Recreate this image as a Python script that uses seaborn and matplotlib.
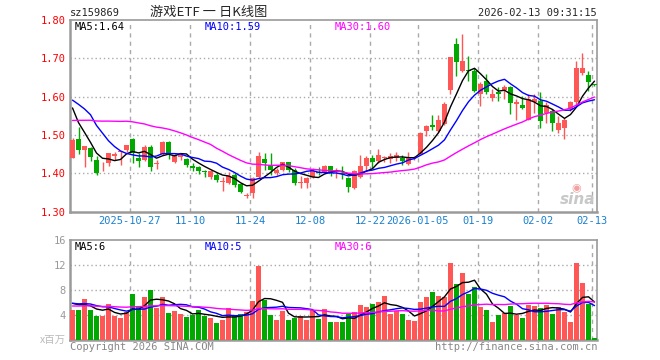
import numpy as np
import pandas as pd
import matplotlib
matplotlib.use("Agg")
import matplotlib.pyplot as plt
import seaborn as sns

sns.set_style("white")
plt.rcParams['font.family'] = ['DejaVu Sans Mono', 'Noto Sans CJK SC']

# 游戏ETF 日K (2025-10-13 ~ 2026-02-13), 价格: 元, 成交量: 百万
opens = [1.441, 1.490, 1.462, 1.465, 1.436, 1.418, 1.427, 1.445, 1.455, 1.461,
         1.490, 1.439, 1.435, 1.468, 1.424, 1.450, 1.483, 1.430, 1.443, 1.437,
         1.419, 1.417, 1.405, 1.391, 1.397, 1.378, 1.374, 1.396, 1.372, 1.340,
         1.350, 1.391, 1.437, 1.423, 1.400, 1.409, 1.429, 1.409, 1.375, 1.374,
         1.391, 1.404, 1.404, 1.418, 1.403, 1.402, 1.387, 1.362, 1.391, 1.419,
         1.440, 1.432, 1.441, 1.438, 1.441, 1.441, 1.425, 1.440, 1.451, 1.510,
         1.527, 1.510, 1.530, 1.618, 1.738, 1.668, 1.669, 1.668, 1.606, 1.641,
         1.596, 1.612, 1.617, 1.625, 1.582, 1.577, 1.540, 1.586, 1.589, 1.558,
         1.562, 1.514, 1.518, 1.567, 1.586, 1.663, 1.656, 1.632]
highs = [1.492, 1.521, 1.472, 1.470, 1.445, 1.430, 1.453, 1.457, 1.459, 1.475,
         1.492, 1.452, 1.474, 1.474, 1.434, 1.485, 1.484, 1.450, 1.450, 1.439,
         1.427, 1.420, 1.410, 1.409, 1.402, 1.391, 1.404, 1.400, 1.376, 1.348,
         1.391, 1.457, 1.452, 1.452, 1.413, 1.430, 1.430, 1.413, 1.392, 1.390,
         1.413, 1.417, 1.422, 1.419, 1.413, 1.419, 1.391, 1.409, 1.448, 1.444,
         1.448, 1.464, 1.444, 1.453, 1.457, 1.448, 1.455, 1.446, 1.507, 1.525,
         1.551, 1.551, 1.586, 1.704, 1.753, 1.764, 1.707, 1.676, 1.637, 1.659,
         1.619, 1.624, 1.630, 1.628, 1.593, 1.602, 1.606, 1.606, 1.611, 1.586,
         1.567, 1.549, 1.545, 1.589, 1.694, 1.714, 1.667, 1.634]
lows = [1.439, 1.450, 1.417, 1.432, 1.397, 1.405, 1.419, 1.435, 1.421, 1.457,
        1.426, 1.417, 1.433, 1.405, 1.411, 1.448, 1.437, 1.428, 1.435, 1.417,
        1.405, 1.399, 1.391, 1.385, 1.378, 1.355, 1.371, 1.365, 1.349, 1.336,
        1.336, 1.389, 1.409, 1.397, 1.396, 1.407, 1.404, 1.370, 1.362, 1.362,
        1.388, 1.395, 1.400, 1.392, 1.387, 1.386, 1.352, 1.360, 1.389, 1.409,
        1.415, 1.426, 1.429, 1.426, 1.433, 1.422, 1.422, 1.436, 1.450, 1.497,
        1.512, 1.508, 1.527, 1.606, 1.654, 1.664, 1.641, 1.611, 1.575, 1.606,
        1.589, 1.589, 1.593, 1.554, 1.540, 1.567, 1.540, 1.558, 1.518, 1.532,
        1.510, 1.505, 1.489, 1.562, 1.577, 1.656, 1.615, 1.628]
closes = [1.488, 1.461, 1.472, 1.443, 1.401, 1.420, 1.452, 1.450, 1.458, 1.474,
          1.452, 1.433, 1.470, 1.417, 1.426, 1.483, 1.454, 1.448, 1.447, 1.421,
          1.415, 1.405, 1.403, 1.407, 1.383, 1.380, 1.393, 1.370, 1.352, 1.343,
          1.387, 1.446, 1.426, 1.409, 1.409, 1.429, 1.409, 1.374, 1.377, 1.387,
          1.406, 1.402, 1.420, 1.400, 1.405, 1.398, 1.365, 1.406, 1.419, 1.441,
          1.430, 1.448, 1.443, 1.444, 1.448, 1.431, 1.439, 1.442, 1.505, 1.523,
          1.520, 1.540, 1.582, 1.703, 1.691, 1.694, 1.667, 1.615, 1.632, 1.612,
          1.606, 1.608, 1.626, 1.584, 1.586, 1.571, 1.593, 1.595, 1.536, 1.577,
          1.532, 1.532, 1.540, 1.586, 1.674, 1.674, 1.639, 1.630]
volumes = [4.80, 4.80, 6.56, 4.80, 3.84, 3.84, 5.76, 3.84, 3.52, 4.43,
           7.36, 5.28, 6.88, 8.00, 5.12, 6.88, 4.32, 4.64, 4.16, 3.68,
           4.05, 4.80, 3.90, 3.52, 2.72, 3.20, 5.12, 3.84, 4.16, 4.48,
           6.24, 11.90, 6.40, 4.00, 3.20, 4.64, 3.20, 3.52, 3.84, 3.20,
           4.80, 3.36, 4.96, 2.88, 2.88, 2.88, 4.16, 4.48, 5.60, 5.28,
           5.76, 6.08, 7.04, 4.16, 4.64, 4.16, 3.20, 3.04, 6.08, 6.88,
           7.68, 7.04, 6.88, 12.32, 8.96, 10.72, 7.36, 8.48, 5.28, 4.80,
           2.88, 4.00, 4.32, 5.44, 4.00, 3.52, 5.60, 5.44, 5.12, 5.60,
           4.16, 5.28, 4.48, 2.88, 12.32, 9.12, 5.76, 0.32]

# 图表左端之前的29个交易日, 只用来算均线
prev_closes = [1.45, 1.47, 1.44, 1.46, 1.43, 1.45, 1.46, 1.47, 1.46,
               1.50, 1.52, 1.55, 1.56, 1.53, 1.55, 1.55, 1.58, 1.60, 1.59,
               1.61, 1.571, 1.592, 1.593, 1.681, 1.62, 1.652, 1.60, 1.573, 1.54]
prev_volumes = [5.0, 5.5, 4.8, 5.6, 5.2, 4.9, 5.8, 5.3, 5.0, 5.4,
                4.7, 5.6, 5.1, 5.3, 5.5, 4.9, 5.2, 5.4, 5.0, 5.3,
                5.6, 6.2, 5.5, 6.4, 5.65, 5.9, 6.5, 5.8, 6.35]

tick_idx = [10, 20, 30, 40, 50, 58, 68, 78, 87]
tick_labels = ["2025-10-27", "11-10", "11-24", "12-08", "12-22",
               "2026-01-05", "01-19", "02-02", "02-13"]

RED = "#ff5656"
GREEN = "#00a800"
GRID = "#aaaaaa"
FRAME = "#9a9a9a"
MA_COLORS = {5: "black", 10: "#0000ff", 30: "#ff00ff"}

n = len(closes)
idx = np.arange(n)
df = pd.DataFrame({"i": idx, "open": opens, "high": highs, "low": lows,
                   "close": closes, "vol": volumes})
df["dir"] = np.where(df["close"] >= df["open"], "up", "down")

k = len(prev_closes)
all_close = pd.Series(prev_closes + closes)
all_vol = pd.Series(prev_volumes + volumes)
for w in (5, 10, 30):
    df[f"ma{w}"] = all_close.rolling(w).mean().iloc[k:].to_numpy()
    df[f"vma{w}"] = all_vol.rolling(w).mean().iloc[k:].to_numpy()

W, H = 660, 360
fig = plt.figure(figsize=(6.6, 3.6), dpi=100)
ax = fig.add_axes([70 / W, 1 - 211.7 / H, 527 / W, 191.7 / H])
axv = fig.add_axes([70 / W, 1 - 340 / H, 527 / W, 100 / H])

half = 0.417
grid_x = [t - half for t in tick_idx]

# ---- K线 ----
colors = np.where(df["dir"] == "up", RED, GREEN)
body_lo = np.minimum(df["open"], df["close"])
body_h = np.maximum((df["close"] - df["open"]).abs(), 0.0025)
ax.vlines(idx, df["low"], df["high"], colors=colors, lw=1, zorder=2)
ax.bar(idx, body_h, bottom=body_lo, width=0.83, color=colors, linewidth=0, zorder=3)
for w in (5, 10, 30):
    sns.lineplot(data=df, x="i", y=f"ma{w}", color=MA_COLORS[w], lw=1, ax=ax, zorder=4)

for y in (1.4, 1.5, 1.6, 1.7):
    ax.axhline(y, color=GRID, ls=(0, (1, 2)), lw=1, zorder=0)
for gx in grid_x:
    ax.axvline(gx, color=GRID, ls=(0, (3, 3)), lw=1, zorder=0)

ax.set_xlim(-half, n - 1 + half)
ax.set_ylim(1.30, 1.80)
ax.set_yticks([1.3, 1.4, 1.5, 1.6, 1.7, 1.8])
ax.set_yticklabels([f"{v:.2f}" for v in [1.3, 1.4, 1.5, 1.6, 1.7, 1.8]], color="#ff0000", fontsize=7.5)
ax.set_xticks(grid_x)
ax.set_xticklabels(tick_labels, color="#1a80d0", fontsize=7.5)
ax.tick_params(length=0, pad=3)
ax.set_xlabel("")
ax.set_ylabel("")

# ---- 成交量 ----
sns.barplot(data=df, x="i", y="vol", hue="dir", palette={"up": RED, "down": GREEN},
            native_scale=True, width=0.83, dodge=False, errorbar=None, legend=False,
            saturation=1, linewidth=0, ax=axv, zorder=3)
for w in (5, 10, 30):
    sns.lineplot(data=df, x="i", y=f"vma{w}", color=MA_COLORS[w], lw=1, ax=axv, zorder=4)

for y in (4, 8, 12):
    axv.axhline(y, color=GRID, ls=(0, (1, 2)), lw=1, zorder=0)
for gx in grid_x:
    axv.axvline(gx, color=GRID, ls=(0, (3, 3)), lw=1, zorder=0)

axv.set_xlim(-half, n - 1 + half)
axv.set_ylim(0, 16)
axv.set_yticks([4, 8, 12, 16])
axv.set_yticklabels(["4", "8", "12", "16"], color="#999999", fontsize=7.5)
axv.set_xticks([])
axv.tick_params(length=0, pad=3)
axv.set_xlabel("")
axv.set_ylabel("")

for a in (ax, axv):
    for s in a.spines.values():
        s.set_color(FRAME)
        s.set_linewidth(1.2)
    a.spines["left"].set_linewidth(1.8)
    a.spines["bottom"].set_linewidth(1.8)

# ---- 文字 ----
def px(x, y):
    return x / W, 1 - y / H

fig.text(*px(70, 13), "sz159869", fontsize=7.5, va="center", ha="left")
fig.text(*px(209, 12), "游戏ETF 一 日K线图", fontsize=9.5, va="center", ha="center",
         family=["Noto Sans CJK SC", "DejaVu Sans"])
fig.text(*px(597, 13), "2026-02-13 09:31:15", fontsize=7.5, va="center", ha="right")

ma_x = {5: 75, 10: 205, 30: 335}
for w in (5, 10, 30):
    fig.text(*px(ma_x[w], 27), f"MA{w}:{df[f'ma{w}'].iloc[-1]:.2f}",
             color=MA_COLORS[w], fontsize=7.5, va="center")
    fig.text(*px(ma_x[w], 247), f"MA{w}:{int(df[f'vma{w}'].iloc[-1])}",
             color=MA_COLORS[w], fontsize=7.5, va="center")

fig.text(*px(66, 340), "x百万", fontsize=7.5, color="#bbbbbb", va="center", ha="right",
         family=["Noto Sans CJK SC", "DejaVu Sans"])
fig.text(*px(70, 347), "Copyright 2026 SINA.COM", fontsize=7.5, color="#888888", va="center")
fig.text(*px(597, 347), "http://finance.sina.com.cn", fontsize=7.5, color="#888888",
         va="center", ha="right")

# 新浪水印
fig.text(*px(576, 188), "◉", fontsize=8, color="#f2a0a0", va="center", ha="center",
         family="DejaVu Sans")
fig.text(*px(578, 199), "sina", fontsize=11, color="#c8c8c8", style="italic",
         weight="bold", va="center", ha="center", family="DejaVu Sans")

fig.savefig("out.png", dpi=100)
